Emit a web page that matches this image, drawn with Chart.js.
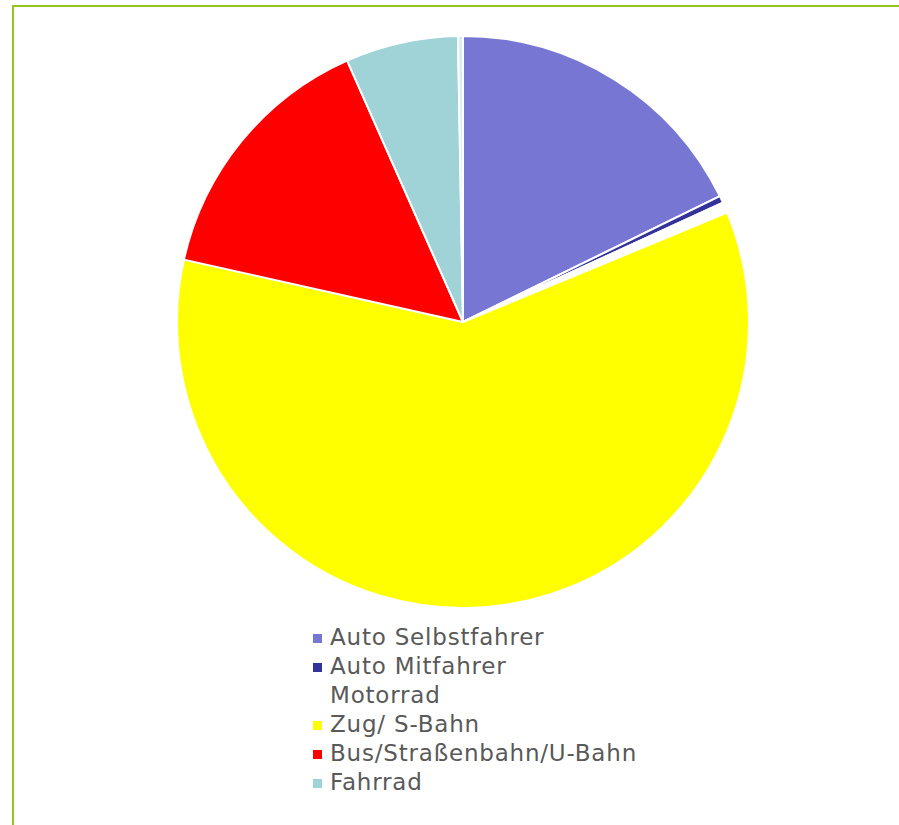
<!DOCTYPE html>
<html>
<head>
<meta charset="utf-8">
<script src="https://cdn.jsdelivr.net/npm/chart.js@4"></script>
<style>
    body { margin: 0; background: #fff; width: 899px; height: 825px; overflow: hidden; position: relative; }
    #frame { position: absolute; left: 12px; top: 5px; width: 1000px; height: 1000px; border: 2px solid #99c31c; box-sizing: border-box; }
    #pie-wrap { position: absolute; left: 176px; top: 35px; width: 574px; height: 574px; }
    #legend { position: absolute; left: 313px; top: 623px; font-family: "DejaVu Sans", Verdana, sans-serif; font-size: 23px; letter-spacing: 0.8px; color: #595959; }
    .row { height: 29px; line-height: 29px; white-space: nowrap; }
    .box { display: inline-block; width: 9px; height: 9px; margin-right: 8px; vertical-align: 2px; }
</style>
</head>
<body>
<div id="frame"></div>
<div id="pie-wrap"><canvas id="pie"></canvas></div>
<div id="legend"></div>
<script>
// Categories (last one is an unlabeled sliver, not shown in legend)
const categories = ["Auto Selbstfahrer", "Auto Mitfahrer", "Motorrad", "Zug/ S-Bahn", "Bus/Straßenbahn/U-Bahn", "Fahrrad", ""];
// Share in percent
const shares = [17.75, 0.4, 0.6, 59.75, 14.86, 6.36, 0.28];
const sliceColors = ["#7777d3", "#333399", "#ffffff", "#ffff00", "#ff0000", "#9fd3d7", "#d6eef0"];

const chart = new Chart(document.getElementById('pie').getContext('2d'), {
    type: 'pie',
    data: {
        labels: categories,
        datasets: [{
            data: shares,
            backgroundColor: sliceColors,
            borderColor: '#ffffff',
            borderWidth: 2
        }]
    },
    options: {
        responsive: true,
        maintainAspectRatio: false,
        animation: false,
        layout: { padding: 0 },
        plugins: {
            legend: { display: false },
            tooltip: { enabled: false }
        }
    }
});

// Build the vertical legend from the chart's own legend items
const legendEl = document.getElementById('legend');
const items = Chart.overrides.pie.plugins.legend.labels.generateLabels(chart);
items.forEach(item => {
    if (!item.text) return;
    const row = document.createElement('div');
    row.className = 'row';
    const box = document.createElement('span');
    box.className = 'box';
    box.style.background = item.fillStyle;
    row.appendChild(box);
    row.appendChild(document.createTextNode(item.text));
    legendEl.appendChild(row);
});
</script>
</body>
</html>
